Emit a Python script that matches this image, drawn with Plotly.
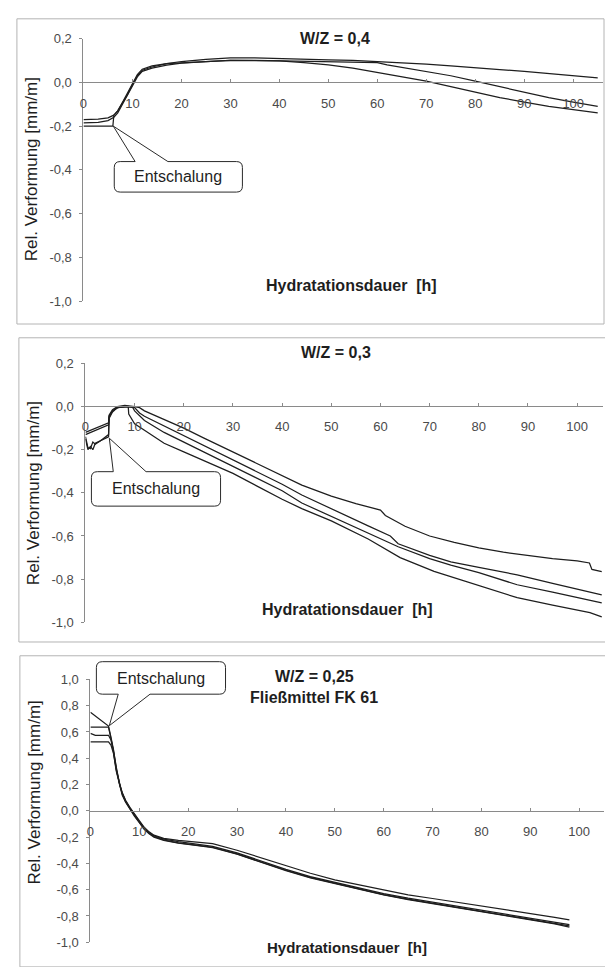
import plotly.graph_objects as go

# ---------------- data ----------------
x_ticks = [0, 10, 20, 30, 40, 50, 60, 70, 80, 90, 100]
x_ticktext = ["0", "10", "20", "30", "40", "50", "60", "70", "80", "90", "100"]
y_ticks_a = [-1.0, -0.8, -0.6, -0.4, -0.2, 0.0, 0.2]
y_ticktext_a = ["-1,0", "-0,8", "-0,6", "-0,4", "-0,2", "0,0", "0,2"]
y_ticks_b = [-1.0, -0.8, -0.6, -0.4, -0.2, 0.0, 0.2, 0.4, 0.6, 0.8, 1.0]
y_ticktext_b = ["-1,0", "-0,8", "-0,6", "-0,4", "-0,2", "0,0", "0,2", "0,4", "0,6", "0,8", "1,0"]

# Panel 1: W/Z = 0,4
p1_x = [0, 3, 5, 6, 6.2, 7, 8, 9, 10, 11, 12, 14, 17, 20, 25, 30, 35, 40, 45, 50, 55,
        60, 62, 65, 70, 75, 80, 85, 90, 95, 100, 105]
p1_a = [-0.17, -0.168, -0.162, -0.155, -0.15, -0.13, -0.095, -0.055, -0.01, 0.03, 0.055,
        0.07, 0.085, 0.095, 0.105, 0.112, 0.112, 0.108, 0.106, 0.103, 0.1, 0.095, 0.093,
        0.09, 0.083, 0.075, 0.065, 0.058, 0.05, 0.04, 0.03, 0.02]
p1_b = [-0.185, -0.183, -0.175, -0.165, -0.16, -0.14, -0.1, -0.06, -0.015, 0.025, 0.05,
        0.065, 0.078, 0.088, 0.095, 0.1, 0.1, 0.098, 0.097, 0.095, 0.093, 0.09, 0.08,
        0.068, 0.05, 0.03, 0.005, -0.02, -0.045, -0.07, -0.09, -0.11]
p1_c = [-0.2, -0.2, -0.2, -0.2, -0.15, -0.13, -0.09, -0.05, -0.005, 0.035, 0.06, 0.075,
        0.085, 0.09, 0.095, 0.1, 0.1, 0.098, 0.09, 0.08, 0.065, 0.045, 0.038, 0.028,
        0.005, -0.02, -0.045, -0.07, -0.09, -0.11, -0.125, -0.14]

# Panel 2: W/Z = 0,3
p2_x1 = [0, 4.7, 4.8, 5.5, 6.5, 8, 10, 11, 12, 16, 20, 24, 30, 35, 40, 44, 50, 55, 60,
         61, 65, 70, 75, 80, 85, 90, 95, 100, 102.5, 103, 105]
p2_y1 = [-0.12, -0.075, -0.04, -0.015, 0.0, 0.005, 0.0, -0.005, -0.02, -0.06, -0.1,
         -0.145, -0.21, -0.265, -0.32, -0.364, -0.415, -0.45, -0.48, -0.505, -0.555,
         -0.6, -0.63, -0.655, -0.675, -0.69, -0.705, -0.715, -0.725, -0.755, -0.765]
p2_x2 = [0, 4.7, 4.8, 5.5, 6.5, 8, 10, 11, 12, 16, 20, 24, 30, 35, 40, 44, 50, 57.5,
         62, 63.6, 70, 74.3, 80, 87.8, 95, 100, 105]
p2_y2 = [-0.13, -0.085, -0.045, -0.02, -0.005, 0.0, -0.005, -0.03, -0.045, -0.09,
         -0.135, -0.18, -0.245, -0.3, -0.36, -0.41, -0.475, -0.553, -0.6, -0.636,
         -0.69, -0.72, -0.745, -0.78, -0.82, -0.845, -0.873]
p2_x3 = [0, 0.5, 1, 1.5, 2, 3, 4.7, 4.8, 5.5, 6.5, 8, 9.5, 10, 11, 12, 16, 20, 24, 30,
         35, 40, 44, 50, 57.5, 63.6, 70, 74.3, 80, 87.8, 95, 100, 105]
p2_y3 = [-0.14, -0.19, -0.195, -0.165, -0.175, -0.16, -0.13, -0.05, -0.02, -0.005, 0.0,
         0.0, -0.02, -0.045, -0.065, -0.12, -0.165, -0.21, -0.275, -0.33, -0.39,
         -0.447, -0.51, -0.585, -0.65, -0.705, -0.735, -0.77, -0.826, -0.86, -0.885, -0.91]
p2_x4 = [0, 0.5, 1, 1.5, 2, 3, 4.7, 4.8, 5.5, 6.5, 8, 8.7, 8.8, 10, 12, 16, 20, 24, 30,
         35, 40, 44, 50, 57.5, 64, 70.9, 80, 87.8, 95, 102.6, 105]
p2_y4 = [-0.15, -0.2, -0.185, -0.2, -0.17, -0.16, -0.14, -0.055, -0.025, -0.005, 0.0,
         0.0, -0.035, -0.08, -0.11, -0.17, -0.21, -0.25, -0.31, -0.37, -0.43, -0.473,
         -0.53, -0.614, -0.7, -0.764, -0.83, -0.886, -0.92, -0.955, -0.975]

# Panel 3: W/Z = 0,25, Fließmittel FK 61
p3_x = [0, 1, 2, 3, 3.7, 4.2, 4.7, 5.3, 6, 6.5, 7.2, 8.1, 9, 10, 11, 12, 13, 15, 18, 22,
        25, 30, 35, 40, 45, 50, 55, 60, 65, 70, 75, 80, 85, 90, 95, 98]
p3_a = [0.75, 0.72, 0.69, 0.665, 0.645, 0.56, 0.47, 0.33, 0.2, 0.14, 0.08, 0.025, -0.025,
        -0.075, -0.125, -0.16, -0.185, -0.21, -0.225, -0.24, -0.25, -0.3, -0.36, -0.42,
        -0.475, -0.525, -0.565, -0.605, -0.64, -0.667, -0.695, -0.725, -0.755, -0.78,
        -0.81, -0.83]
p3_b = [0.637, 0.637, 0.637, 0.637, 0.637, 0.55, 0.46, 0.32, 0.195, 0.135, 0.075, 0.02,
        -0.03, -0.08, -0.13, -0.165, -0.19, -0.215, -0.235, -0.255, -0.27, -0.32, -0.385,
        -0.445, -0.5, -0.545, -0.59, -0.63, -0.665, -0.695, -0.725, -0.755, -0.785,
        -0.815, -0.845, -0.865]
p3_c = [0.59, 0.575, 0.575, 0.575, 0.575, 0.54, 0.45, 0.31, 0.19, 0.13, 0.07, 0.015,
        -0.035, -0.085, -0.135, -0.17, -0.195, -0.222, -0.243, -0.262, -0.277, -0.328,
        -0.392, -0.452, -0.507, -0.552, -0.597, -0.637, -0.672, -0.702, -0.732, -0.762,
        -0.792, -0.822, -0.855, -0.875]
p3_d = [0.524, 0.524, 0.524, 0.524, 0.524, 0.5, 0.44, 0.3, 0.18, 0.12, 0.065, 0.01,
        -0.04, -0.09, -0.14, -0.175, -0.2, -0.225, -0.245, -0.265, -0.28, -0.33, -0.395,
        -0.455, -0.51, -0.555, -0.6, -0.64, -0.675, -0.705, -0.735, -0.765, -0.795,
        -0.825, -0.86, -0.885]

# ---------------- layout helpers (pixel -> paper) ----------------
W, H = 605, 967
def px(v):
    return v / W
def py(v):
    return 1 - v / H

FONT = "Liberation Sans, Arial, sans-serif"
LINE = dict(color="#1e1e1e", width=1.25)
AXC = "#8a8a8a"

fig = go.Figure()
for xs, ys in [(p1_x, p1_a), (p1_x, p1_b), (p1_x, p1_c)]:
    fig.add_trace(go.Scatter(x=xs, y=ys, mode="lines", line=LINE, xaxis="x", yaxis="y",
                             showlegend=False, hoverinfo="skip"))
for xs, ys in [(p2_x1, p2_y1), (p2_x2, p2_y2), (p2_x3, p2_y3), (p2_x4, p2_y4)]:
    fig.add_trace(go.Scatter(x=xs, y=ys, mode="lines", line=LINE, xaxis="x2", yaxis="y2",
                             showlegend=False, hoverinfo="skip"))
for ys in [p3_a, p3_b, p3_c, p3_d]:
    fig.add_trace(go.Scatter(x=p3_x, y=ys, mode="lines", line=LINE, xaxis="x3", yaxis="y3",
                             showlegend=False, hoverinfo="skip"))

def xaxis(x0, x1, xmax, zero_px):
    return dict(domain=[px(x0), px(x1)], range=[0, xmax], anchor="free",
                position=py(zero_px), tickvals=x_ticks, ticktext=x_ticktext,
                showline=True, linecolor=AXC, linewidth=1, ticks="inside", ticklen=3,
                tickcolor=AXC, showgrid=False, zeroline=False, ticklabelstandoff=9,
                tickfont=dict(family=FONT, size=13, color="#4a4a4a"))

def yaxis(top, bottom, rng, tv, tt, xname):
    return dict(domain=[py(bottom), py(top)], range=rng, anchor=xname,
                tickvals=tv, ticktext=tt, showline=True, linecolor=AXC, linewidth=1,
                ticks="outside", ticklen=3, tickcolor=AXC, showgrid=False,
                zeroline=False, ticklabelstandoff=5,
                tickfont=dict(family=FONT, size=13, color="#4a4a4a"))

fig.update_layout(
    width=W, height=H, margin=dict(l=0, r=0, t=0, b=0),
    paper_bgcolor="white", plot_bgcolor="white", showlegend=False,
    xaxis=xaxis(80, 602.6, 106, 76.5),
    yaxis=yaxis(32, 299, [-1.0, 0.2], y_ticks_a, y_ticktext_a, "x"),
    xaxis2=xaxis(82, 603.2, 105.3, 405),
    yaxis2=yaxis(362, 625, [-1.0, 0.2], y_ticks_a, y_ticktext_a, "x2"),
    xaxis3=xaxis(87, 603.6, 105, 816.5),
    yaxis3=yaxis(683, 950, [-1.0, 1.0], y_ticks_b, y_ticktext_b, "x3"),
)

# panel frames
for (l, t, r, b) in [(13, 12, 604, 322), (15, 336, 608, 645), (16, 659, 608, 975)]:
    fig.add_shape(type="rect", xref="paper", yref="paper", x0=px(l), x1=px(r),
                  y0=py(b), y1=py(t), line=dict(color="#b4b4b4", width=1), layer="below")

def callout(L, T, R, B, b1, b2, tip, side, r=6):
    def p(x, y):
        return f"{px(x):.5f},{py(y):.5f}"
    if side == "top":
        d = (f"M {p(L + r, T)} L {p(b1, T)} L {p(*tip)} L {p(b2, T)} L {p(R - r, T)} "
             f"Q {p(R, T)} {p(R, T + r)} L {p(R, B - r)} Q {p(R, B)} {p(R - r, B)} "
             f"L {p(L + r, B)} Q {p(L, B)} {p(L, B - r)} L {p(L, T + r)} Q {p(L, T)} {p(L + r, T)} Z")
    else:
        d = (f"M {p(L + r, T)} L {p(R - r, T)} Q {p(R, T)} {p(R, T + r)} L {p(R, B - r)} "
             f"Q {p(R, B)} {p(R - r, B)} L {p(b2, B)} L {p(*tip)} L {p(b1, B)} "
             f"L {p(L + r, B)} Q {p(L, B)} {p(L, B - r)} L {p(L, T + r)} Q {p(L, T)} {p(L + r, T)} Z")
    fig.add_shape(type="path", xref="paper", yref="paper", path=d,
                  line=dict(color="#2a2a2a", width=1), fillcolor="white", layer="above")

callout(111, 157, 240, 188, 132, 165, (110, 121), "top")
callout(88, 472, 218, 507, 110, 143, (106, 438), "top")
callout(93, 665, 223, 698, 115, 147, (106, 730), "bottom")

def text(x, y, s, size, bold=False, angle=0, color="#1e1e1e"):
    fig.add_annotation(xref="paper", yref="paper", x=px(x), y=py(y), text=f"<b>{s}</b>" if bold else s,
                       showarrow=False, textangle=angle, xanchor="center", yanchor="middle",
                       font=dict(family=FONT, size=size, color=color))

# callout texts
text(175, 172, "Entschalung", 16)
text(153, 489, "Entschalung", 16)
text(158, 682, "Entschalung", 16)

# titles
text(333, 32, "W/Z = 0,4", 16, bold=True)
text(334, 351, "W/Z = 0,3", 16, bold=True)
text(313, 680, "W/Z = 0,25", 16, bold=True)
text(312, 701, "Fließmittel FK 61", 16, bold=True)

# x titles
text(350, 283, "Hydratationsdauer&nbsp;&nbsp;[h]", 16, bold=True)
text(346, 612, "Hydratationsdauer&nbsp;&nbsp;[h]", 16, bold=True)
text(345, 955, "Hydratationsdauer&nbsp;&nbsp;[h]", 15, bold=True)

# y titles
text(28, 165, "Rel. Verformung [mm/m]", 17, angle=-90)
text(30, 494, "Rel. Verformung [mm/m]", 17, angle=-90)
text(31, 798, "Rel. Verformung [mm/m]", 17, angle=-90)

fig.write_html(
    "out.html",
    config={"displayModeBar": False},
    post_script=("document.body.style.margin='0';"
                 "document.body.style.overflow='hidden';"
                 "document.documentElement.style.overflow='hidden';"),
)
